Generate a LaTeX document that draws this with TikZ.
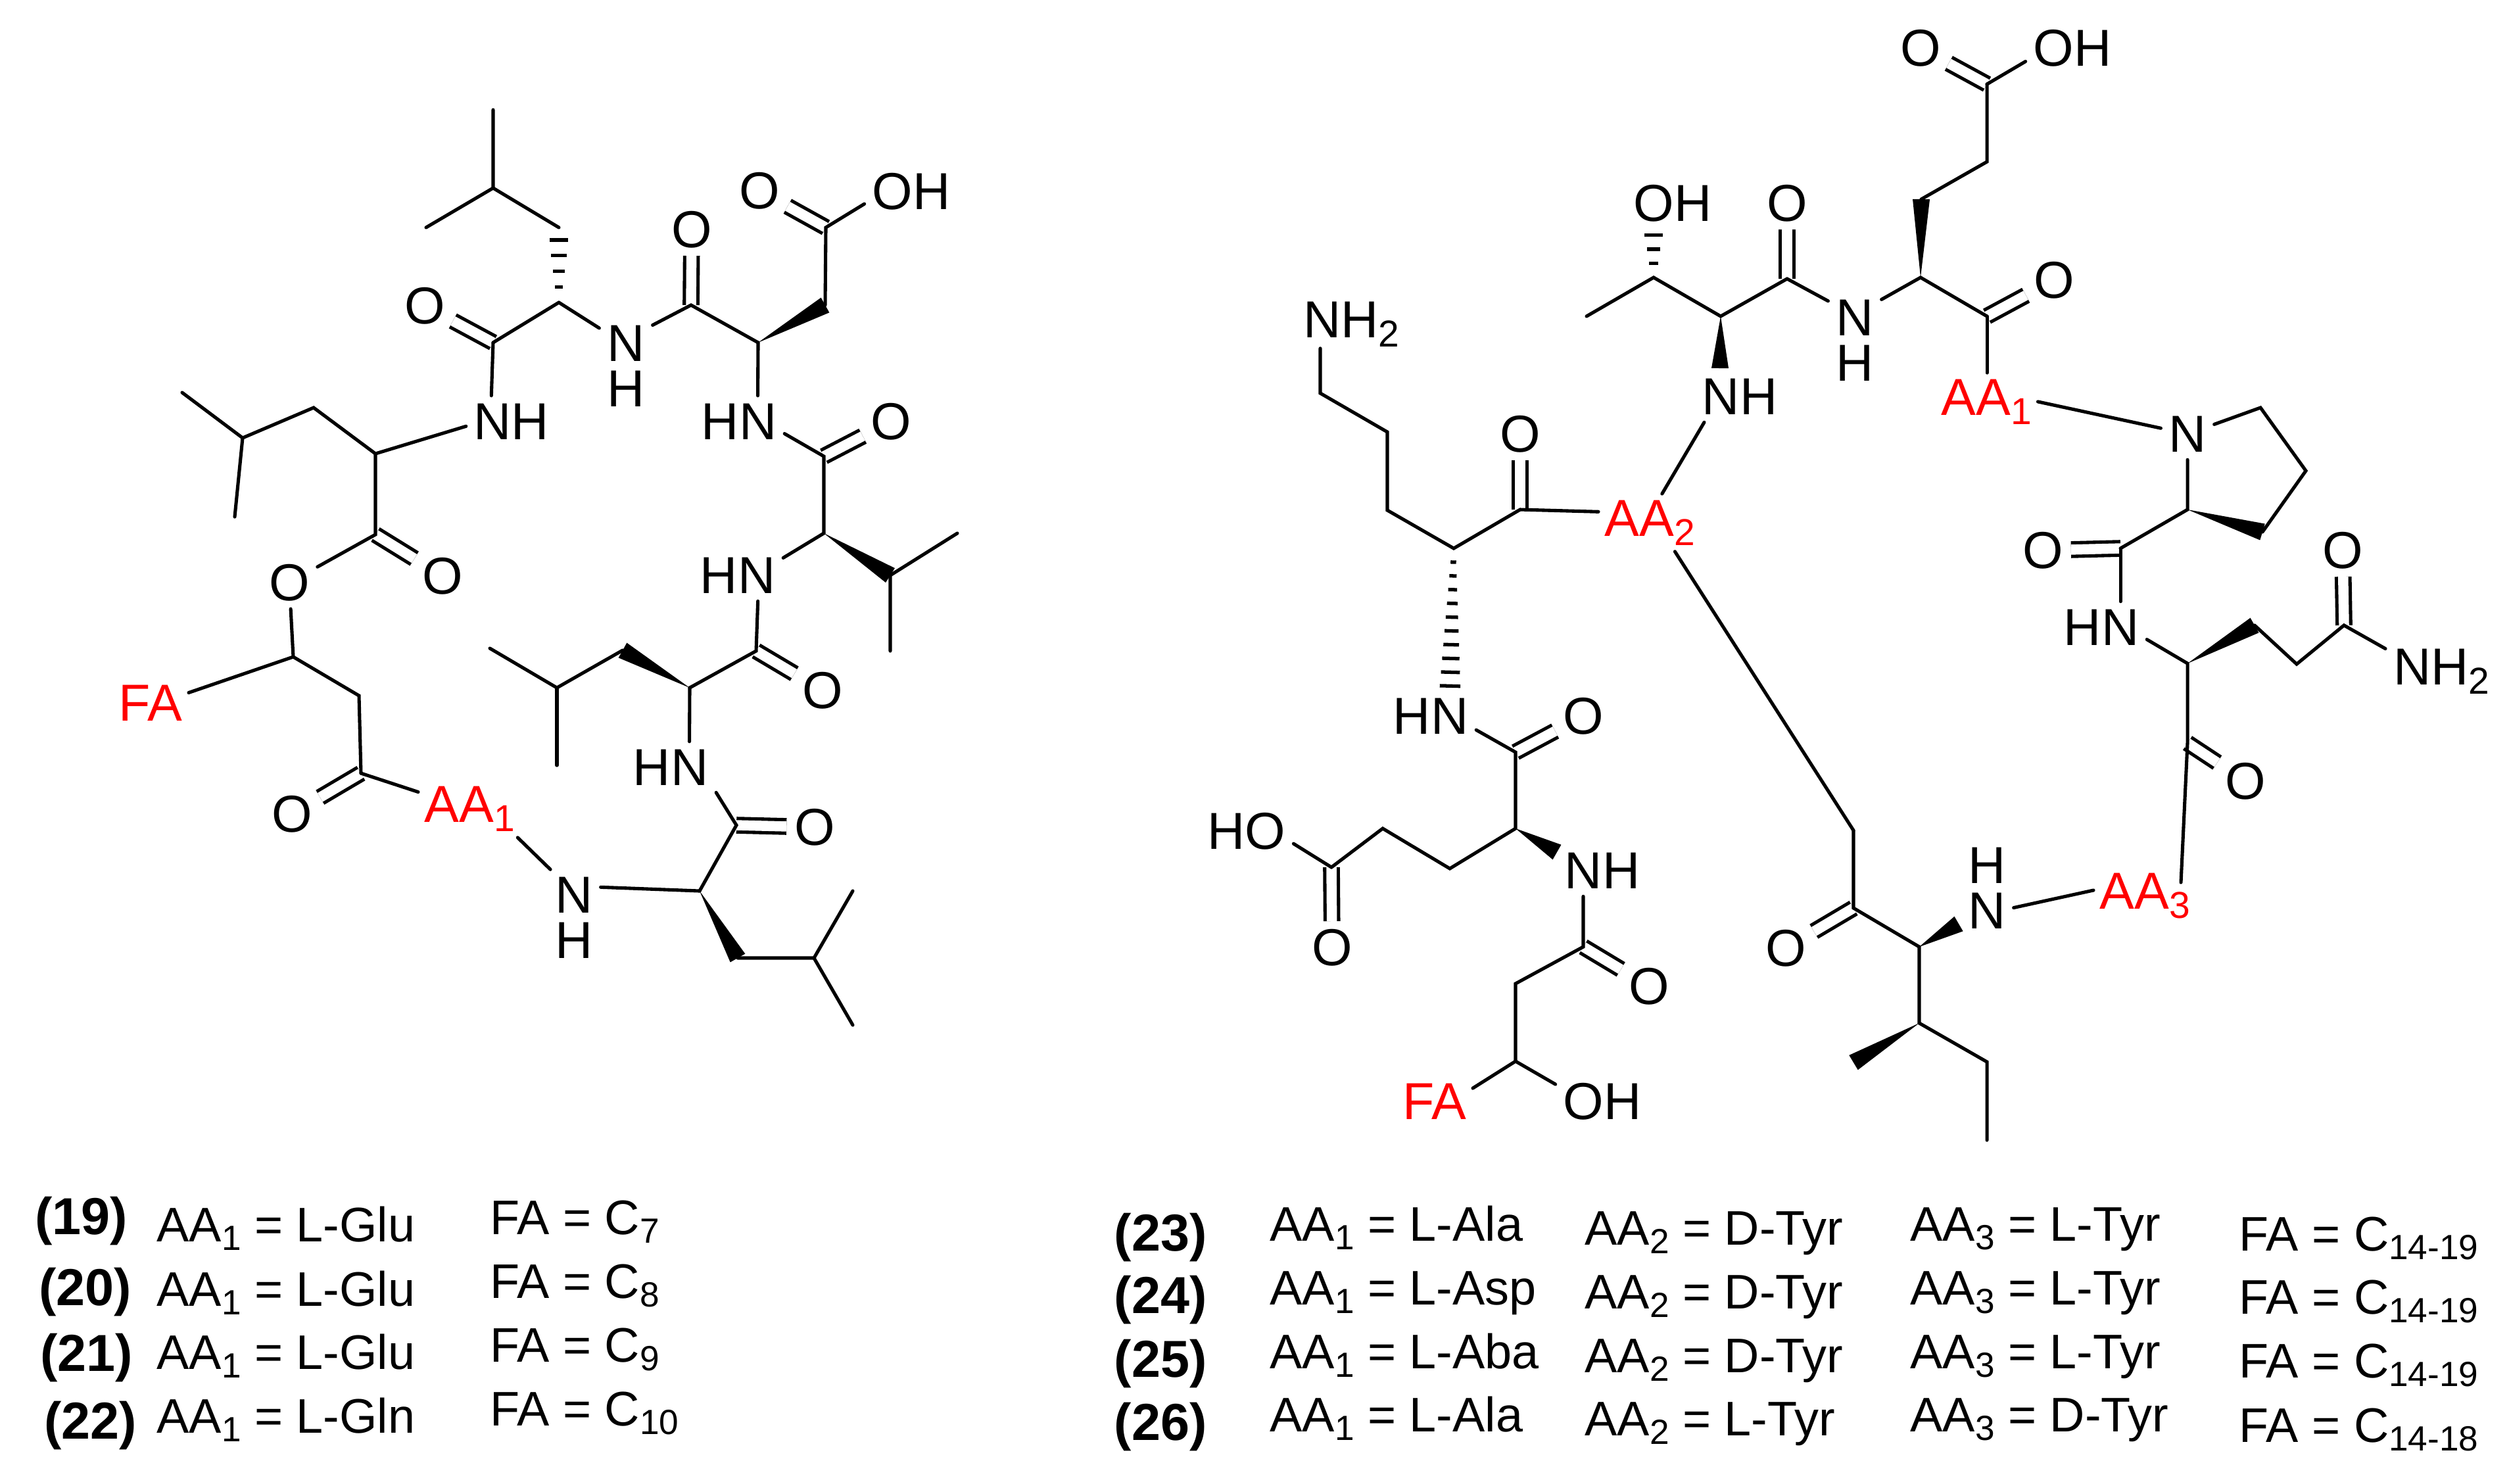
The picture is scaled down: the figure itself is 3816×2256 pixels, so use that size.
\documentclass[tikz,border=0pt]{standalone}
\usepackage{fontspec}
\setmainfont{Liberation Sans}
\usetikzlibrary{calc}

\newcommand{\sbs}[1]{\raisebox{-.18em}{\scalebox{.72}{#1}}}
\newcommand{\wedgebond}[2]{\fill (#1) -- ($(#2)!3.7pt!90:(#1)$) -- ($(#2)!3.7pt!-90:(#1)$) -- cycle;}
\newcommand{\hashbond}[3]{%
    \foreach \i in {1,...,#3}{%
        \pgfmathsetmacro{\t}{\i/(#3+0.8)}%
        \pgfmathsetmacro{\w}{0.85+3.9*\t}%
        \draw[line width=1.5pt,line cap=butt] ($(#1)!\t!(#2)!\w pt!90:(#2)$) -- ($(#1)!\t!(#2)!\w pt!-90:(#2)$);
    }%
}

\tikzset{
    atom/.style={inner sep=2.7pt,font=\fontsize{22.5}{19.6}\selectfont},
    redlab/.style={atom,inner sep=2pt,text=red},
    dbond/.style={double,double distance=4.4pt,line width=1.45pt,line cap=butt},
    lgd/.style={anchor=base west,inner sep=0pt,font=\fontsize{21}{24}\selectfont},
    cpd/.style={anchor=base,inner sep=0pt,font=\bfseries\fontsize{22.5}{26}\selectfont}
}

\begin{document}
\begin{tikzpicture}[x=0.01cm,y=-0.01cm,line width=1.45pt,line cap=round]
    \useasboundingbox (0,0) rectangle (3816,2256);

    \coordinate (la) at (750,167);
    \coordinate (lb) at (750,286);
    \coordinate (lc) at (648,346);
    \coordinate (ld) at (850,346);
    \coordinate (le) at (850,460);
    \coordinate (c1) at (750,521);
    \coordinate (c2) at (1051,464);
    \coordinate (c3) at (1153,521);
    \coordinate (c4) at (1255,464);
    \coordinate (c5) at (1256,346);
    \coordinate (c6) at (1253,694);
    \coordinate (c7) at (1253,811);
    \coordinate (c8) at (1354,875);
    \coordinate (c8a) at (1456,811);
    \coordinate (c8b) at (1354,990);
    \coordinate (c9) at (1150,990);
    \coordinate (c10) at (1049,1046);
    \coordinate (c11) at (947,989);
    \coordinate (c12) at (847,1046);
    \coordinate (c12a) at (745,986);
    \coordinate (c12b) at (847,1164);
    \coordinate (c13) at (1120,1255);
    \coordinate (c14) at (1064,1355);
    \coordinate (c15) at (1122,1457);
    \coordinate (c16) at (1238,1457);
    \coordinate (c16a) at (1297,1355);
    \coordinate (c16b) at (1297,1559);
    \coordinate (c17) at (549,1176);
    \coordinate (c18) at (546,1058);
    \coordinate (c19) at (446,999);
    \coordinate (c20) at (571,813);
    \coordinate (c21) at (571,690);
    \coordinate (c22) at (477,620);
    \coordinate (c23) at (369,666);
    \coordinate (c23a) at (277,597);
    \coordinate (c23b) at (357,786);

    \node[atom] (o1) at (646,465) {O};
    \node[atom] (o2) at (1052,349) {O};
    \node[atom] (o3) at (1155,290) {O};
    \node[atom] (oh3) at (1386,291) {OH};
    \node[atom] (o4) at (1355,641) {O};
    \node[atom] (o5) at (1251,1050) {O};
    \node[atom] (o6) at (1239,1258) {O};
    \node[atom] (o7) at (444,1238) {O};
    \node[atom] (o8) at (440,886) {O};
    \node[atom] (o9) at (673,876) {O};
    \node[atom] (nh1) at (778,641) {NH};
    \node[atom,align=center] (n2) at (952,557) {N\\H};
    \node[atom] (hn1) at (1124,641) {HN};
    \node[atom] (hn2) at (1122,875) {HN};
    \node[atom] (hn3) at (1020,1167) {HN};
    \node[atom,align=center] (n3) at (873,1396) {N\\H};
    \node[redlab,anchor=base west] (aal) at (636,1250) {AA\sbs{1}};
    \node[redlab] (fal) at (229,1069) {FA};

    \draw[dbond] (c1) -- (o1);
    \draw[dbond] (c2) -- (o2);
    \draw[dbond] (c5) -- (o3);
    \draw[dbond] (c6) -- (o4);
    \draw[dbond] (c9) -- (o5);
    \draw[dbond] (c13) -- (o6);
    \draw[dbond] (c17) -- (o7);
    \draw[dbond] (c20) -- (o9);

    \draw (la) -- (lb) -- (lc);
    \draw (lb) -- (ld);
    \draw (le) -- (c1);
    \draw (c1) -- (nh1.128);
    \draw (le) -- (n2.125);
    \draw (n2.57) -- (c2) -- (c3);
    \draw (c3) -- (hn1.54);
    \draw (c4) -- (c5) -- (oh3.195);
    \draw (hn1.-15) -- (c6) -- (c7);
    \draw (c7) -- (hn2.21);
    \draw (c8a) -- (c8) -- (c8b);
    \draw (hn2.-52) -- (c9) -- (c10);
    \draw (c11) -- (c12) -- (c12a);
    \draw (c12) -- (c12b);
    \draw (c10) -- (hn3.54);
    \draw (hn3.-29) -- (c13) -- (c14);
    \draw (c14) -- (n3.49);
    \draw (c15) -- (c16) -- (c16a);
    \draw (c16) -- (c16b);
    \draw (n3.116) -- (aal.-31);
    \draw (c17) -- (aal.162);
    \draw (c17) -- (c18) -- (c19) -- (fal.15);
    \draw (c19) -- (o8);
    \draw (o8) -- (c20) -- (c21) -- (nh1.186);
    \draw (c21) -- (c22) -- (c23) -- (c23a);
    \draw (c23) -- (c23b);

    \hashbond{le}{ld}{4}
    \wedgebond{c3}{c4}
    \wedgebond{c7}{c8}
    \wedgebond{c10}{c11}
    \wedgebond{c14}{c15}

    \coordinate (k1) at (2008,598);
    \coordinate (k2) at (2110,657);
    \coordinate (k3) at (2110,776);
    \coordinate (k4) at (2211,834);
    \coordinate (k5) at (2312,775);
    \coordinate (t1) at (2617,481);
    \coordinate (t2) at (2515,422);
    \coordinate (t3) at (2413,481);
    \coordinate (t4) at (2718,424);
    \coordinate (g1) at (2921,422);
    \coordinate (g2) at (2922,303);
    \coordinate (g3) at (3022,246);
    \coordinate (g4) at (3022,128);
    \coordinate (g5) at (3022,481);
    \coordinate (p1) at (3438,620);
    \coordinate (p2) at (3507,716);
    \coordinate (p3) at (3441,809);
    \coordinate (p4) at (3327,775);
    \coordinate (p5) at (3225,834);
    \coordinate (q1) at (3327,1009);
    \coordinate (q2) at (3429,951);
    \coordinate (q3) at (3493,1010);
    \coordinate (q4) at (3565,951);
    \coordinate (q5) at (3327,1130);
    \coordinate (aat) at (3317,1342);
    \coordinate (i1) at (2919,1440);
    \coordinate (i2) at (2819,1381);
    \coordinate (i3) at (2819,1263);
    \coordinate (i4) at (2919,1556);
    \coordinate (i5) at (2819,1616);
    \coordinate (i6) at (3022,1615);
    \coordinate (i7) at (3022,1734);
    \coordinate (w1) at (2979,1405);
    \coordinate (e1) at (2305,1144);
    \coordinate (e2) at (2305,1260);
    \coordinate (e3) at (2205,1321);
    \coordinate (e4) at (2103,1260);
    \coordinate (e5) at (2025,1319);
    \coordinate (e6) at (2368,1296);
    \coordinate (f1) at (2408,1440);
    \coordinate (f2) at (2305,1496);
    \coordinate (f3) at (2305,1614);
    \coordinate (h1) at (2515,340);
    \coordinate (h2) at (2205,1060);
    \coordinate (w2) at (2616,560);

    \node[atom,inner sep=0pt,anchor=base west] (nh2a) at (1980,513) {NH\sbs{2}};
    \node[atom] (oa) at (2312,660) {O};
    \node[redlab,anchor=base west] (aa2) at (2431,815) {AA\sbs{2}};
    \node[atom] (nha) at (2646,603) {NH};
    \node[atom] (oha) at (2544,309) {OH};
    \node[atom] (ob) at (2718,309) {O};
    \node[atom,align=center] (nb) at (2821,518) {N\\H};
    \node[atom] (oc) at (2921,73) {O};
    \node[atom] (ohc) at (3152,73) {OH};
    \node[atom] (od) at (3124,426) {O};
    \node[redlab,anchor=base west] (aa1) at (2943,631) {AA\sbs{1}};
    \node[atom] (np) at (3327,660) {N};
    \node[atom] (oe) at (3107,837) {O};
    \node[atom] (hne) at (3196,954) {HN};
    \node[atom] (of) at (3563,837) {O};
    \node[atom,anchor=base west] (nh2b) at (3628,1041) {NH\sbs{2}};
    \node[atom] (og) at (3415,1188) {O};
    \node[redlab,anchor=base west] (aa3) at (3184,1382) {AA\sbs{3}};
    \node[atom,align=center] (ni) at (3022,1351) {H\\N};
    \node[atom] (oi) at (2716,1442) {O};
    \node[atom] (hnj) at (2176,1089) {HN};
    \node[atom] (oj) at (2408,1089) {O};
    \node[atom] (nhk) at (2437,1324) {NH};
    \node[atom] (hok) at (1896,1264) {HO};
    \node[atom] (ok) at (2026,1441) {O};
    \node[atom] (ol) at (2508,1500) {O};
    \node[redlab] (far) at (2182,1675) {FA};
    \node[atom] (ohl) at (2437,1675) {OH};

    \draw[dbond] (k5) -- (oa);
    \draw[dbond] (t4) -- (ob);
    \draw[dbond] (g4) -- (oc);
    \draw[dbond] (g5) -- (od);
    \draw[dbond] (p5) -- (oe);
    \draw[dbond] (q4) -- (of);
    \draw[dbond] (q5) -- (og);
    \draw[dbond] (i2) -- (oi);
    \draw[dbond] (e1) -- (oj);
    \draw[dbond] (f1) -- (ol);
    \draw[dbond] (e5) -- (ok);

    \draw (k1 |- nh2a.south) -- (k1) -- (k2) -- (k3) -- (k4) -- (k5);
    \draw (k5) -- (aa2.168);
    \draw (aa2.67.5) -- (nha.216);
    \draw (aa2.-49.5) -- (i3);
    \draw (t3) -- (t2) -- (t1) -- (t4);
    \draw (t4) -- (nb.124);
    \draw (nb.57) -- (g1) -- (g5);
    \draw (g2) -- (g3) -- (g4);
    \draw (g4) -- (ohc.196);
    \draw (g5 |- aa1.north) -- (g5);
    \draw (aa1.east) -- (np);
    \draw (np) -- (p1) -- (p2) -- (p3);
    \draw (np) -- (p4) -- (p5);
    \draw (p5) -- (p5 |- hne.north);
    \draw (hne.-15) -- (q1) -- (q5) -- (aat);
    \draw (q2) -- (q3) -- (q4) -- (nh2b.158);
    \draw (aa3.174) -- (ni.-36);
    \draw (i3) -- (i2) -- (i1) -- (i4) -- (i6) -- (i7);
    \draw (hnj.-17) -- (e1) -- (e2) -- (e3) -- (e4) -- (e5);
    \draw (e5) -- (hok.-15.5);
    \draw (f1 |- nhk.south) -- (f1) -- (f2) -- (f3);
    \draw (f3) -- (far.19);
    \draw (f3) -- (ohl.160);

    \hashbond{t2}{h1}{3}
    \hashbond{k4}{h2}{10}
    \wedgebond{t1}{w2}
    \wedgebond{g1}{g2}
    \wedgebond{p4}{p3}
    \wedgebond{q1}{q2}
    \wedgebond{i1}{w1}
    \wedgebond{i4}{i5}
    \wedgebond{e2}{e6}

    \node[cpd] (l19) at (124,1877) {(19)};
    \node[cpd] (l20) at (130,1985) {(20)};
    \node[cpd] (l21) at (132,2085) {(21)};
    \node[cpd] (l22) at (138,2188) {(22)};
    \node[lgd] (a19) at (236,1888) {AA\sbs{1} = L-Glu};
    \node[lgd] (a20) at (236,1986) {AA\sbs{1} = L-Glu};
    \node[lgd] (a21) at (236,2082) {AA\sbs{1} = L-Glu};
    \node[lgd] (a22) at (236,2179) {AA\sbs{1} = L-Gln};
    \node[lgd] (f19) at (743,1877) {FA = C\sbs{7}};
    \node[lgd] (f20) at (743,1974) {FA = C\sbs{8}};
    \node[lgd] (f21) at (743,2071) {FA = C\sbs{9}};
    \node[lgd] (f22) at (743,2168) {FA = C\sbs{10}};

    \node[cpd] (l23) at (1765,1902) {(23)};
    \node[cpd] (l24) at (1765,1997) {(24)};
    \node[cpd] (l25) at (1765,2094) {(25)};
    \node[cpd] (l26) at (1765,2190) {(26)};
    \node[lgd] (a23) at (1929,1887) {AA\sbs{1} = L-Ala};
    \node[lgd] (a24) at (1929,1984) {AA\sbs{1} = L-Asp};
    \node[lgd] (a25) at (1929,2081) {AA\sbs{1} = L-Aba};
    \node[lgd] (a26) at (1929,2177) {AA\sbs{1} = L-Ala};
    \node[lgd] (b23) at (2408,1893) {AA\sbs{2} = D-Tyr};
    \node[lgd] (b24) at (2408,1990) {AA\sbs{2} = D-Tyr};
    \node[lgd] (b25) at (2408,2087) {AA\sbs{2} = D-Tyr};
    \node[lgd] (b26) at (2408,2183) {AA\sbs{2} = L-Tyr};
    \node[lgd] (d23) at (2903,1887) {AA\sbs{3} = L-Tyr};
    \node[lgd] (d24) at (2903,1984) {AA\sbs{3} = L-Tyr};
    \node[lgd] (d25) at (2903,2081) {AA\sbs{3} = L-Tyr};
    \node[lgd] (d26) at (2903,2177) {AA\sbs{3} = D-Tyr};
    \node[lgd] (f23) at (3403,1902) {FA = C\sbs{14-19}};
    \node[lgd] (f24) at (3403,1998) {FA = C\sbs{14-19}};
    \node[lgd] (f25) at (3403,2095) {FA = C\sbs{14-19}};
    \node[lgd] (f26) at (3403,2193) {FA = C\sbs{14-18}};
\end{tikzpicture}
\end{document}
